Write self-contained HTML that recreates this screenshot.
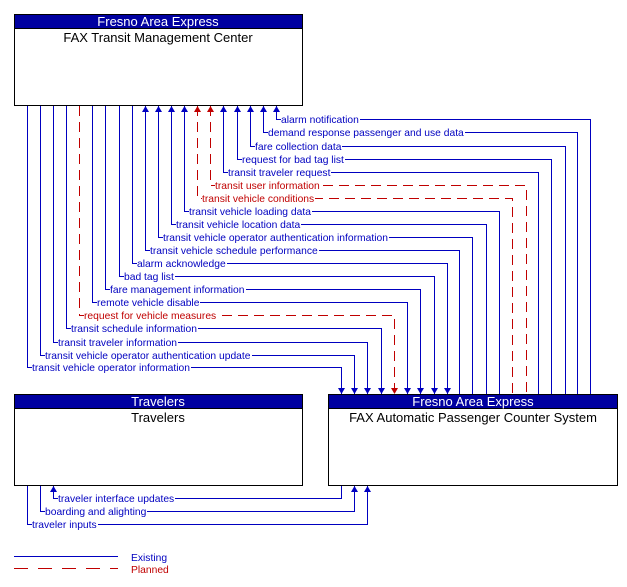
<!DOCTYPE html>
<html><head><meta charset="utf-8"><style>
html,body{margin:0;padding:0;background:#fff}
body{position:relative;width:627px;height:587px;overflow:hidden}
svg{display:block;position:absolute;left:0;top:0}
text{font-family:"Liberation Sans",Arial,sans-serif}
.l{position:absolute;font-family:"Liberation Sans",Arial,sans-serif;font-size:10.3px;line-height:11px;background:#fff;white-space:nowrap;padding:0 1px 0 0;margin-top:1px}
.b{color:#0000c0}.r{color:#c00000}
.e{fill:none;stroke:#0000c0;stroke-width:1}
.p{fill:none;stroke:#c00000;stroke-width:1;stroke-dasharray:10,6}
</style></head><body>
<svg width="627" height="587" viewBox="0 0 627 587" xmlns="http://www.w3.org/2000/svg">
<rect x="14.5" y="14.5" width="288" height="91" fill="#fff" stroke="#000"/>
<rect x="14.5" y="14.5" width="288" height="14" fill="#0000a0" stroke="#000"/>
<text x="158" y="26" font-size="13" fill="#fff" text-anchor="middle">Fresno Area Express</text>
<text x="158" y="42" font-size="13" fill="#000" text-anchor="middle">FAX Transit Management Center</text>

<rect x="14.5" y="394.5" width="288" height="91" fill="#fff" stroke="#000"/>
<rect x="14.5" y="394.5" width="288" height="14" fill="#0000a0" stroke="#000"/>
<text x="158" y="406" font-size="13" fill="#fff" text-anchor="middle">Travelers</text>
<text x="158" y="422" font-size="13" fill="#000" text-anchor="middle">Travelers</text>

<rect x="328.5" y="394.5" width="289" height="91" fill="#fff" stroke="#000"/>
<rect x="328.5" y="394.5" width="289" height="14" fill="#0000a0" stroke="#000"/>
<text x="473" y="406" font-size="13" fill="#fff" text-anchor="middle">Fresno Area Express</text>
<text x="473" y="422" font-size="13" fill="#000" text-anchor="middle">FAX Automatic Passenger Counter System</text>

<path class="e" d="M276.5 106V119.5H590.5V394"/>
<path class="e" d="M263.5 106V132.5H577.5V394"/>
<path class="e" d="M250.5 106V146.5H565.5V394"/>
<path class="e" d="M237.5 106V159.5H551.5V394"/>
<path class="e" d="M223.5 106V172.5H538.5V394"/>
<path class="p" d="M210.5 106V185.5H526.5V394"/>
<path class="p" d="M197.5 106V198.5H512.5V394"/>
<path class="e" d="M184.5 106V211.5H499.5V394"/>
<path class="e" d="M171.5 106V224.5H486.5V394"/>
<path class="e" d="M158.5 106V237.5H472.5V394"/>
<path class="e" d="M145.5 106V250.5H459.5V394"/>
<path class="e" d="M132.5 106V263.5H447.5V394"/>
<path class="e" d="M119.5 106V276.5H434.5V394"/>
<path class="e" d="M105.5 106V289.5H420.5V394"/>
<path class="e" d="M92.5 106V302.5H407.5V394"/>
<path class="p" d="M79.5 106V315.5H394.5V394"/>
<path class="e" d="M66.5 106V328.5H381.5V394"/>
<path class="e" d="M53.5 106V342.5H367.5V394"/>
<path class="e" d="M40.5 106V355.5H354.5V394"/>
<path class="e" d="M27.5 106V367.5H341.5V394"/>

<g fill="#0000c0">
<polygon points="276.5,106 273,112 280,112"/>
<polygon points="263.5,106 260,112 267,112"/>
<polygon points="250.5,106 247,112 254,112"/>
<polygon points="237.5,106 234,112 241,112"/>
<polygon points="223.5,106 220,112 227,112"/>
<polygon points="184.5,106 181,112 188,112"/>
<polygon points="171.5,106 168,112 175,112"/>
<polygon points="158.5,106 155,112 162,112"/>
<polygon points="145.5,106 142,112 149,112"/>
</g>
<g fill="#c00000">
<polygon points="210.5,106 207,112 214,112"/>
<polygon points="197.5,106 194,112 201,112"/>
<polygon points="394.5,394 391,388 398,388"/>
</g>
<g fill="#0000c0">
<polygon points="447.5,394 444,388 451,388"/>
<polygon points="434.5,394 431,388 438,388"/>
<polygon points="420.5,394 417,388 424,388"/>
<polygon points="407.5,394 404,388 411,388"/>
<polygon points="381.5,394 378,388 385,388"/>
<polygon points="367.5,394 364,388 371,388"/>
<polygon points="354.5,394 351,388 358,388"/>
<polygon points="341.5,394 338,388 345,388"/>
</g>

<path class="e" d="M341.5 486V498.5H53.5V486"/>
<path class="e" d="M40.5 486V511.5H354.5V486"/>
<path class="e" d="M27.5 486V524.5H367.5V486"/>
<g fill="#0000c0">
<polygon points="53.5,486 50,492 57,492"/>
<polygon points="354.5,486 351,492 358,492"/>
<polygon points="367.5,486 364,492 371,492"/>
</g>

<line x1="14" y1="556.5" x2="118" y2="556.5" stroke="#0000c0"/>
<text x="131" y="561" font-size="10.3" fill="#0000c0">Existing</text>
<line x1="14" y1="568.5" x2="118" y2="568.5" stroke="#c00000" stroke-dasharray="14,10"/>
<text x="131" y="573" font-size="10.3" fill="#c00000">Planned</text>
</svg>
<span class="l b" style="left:281px;top:114px">alarm notification</span>
<span class="l b" style="left:268px;top:127px">demand response passenger and use data</span>
<span class="l b" style="left:255px;top:141px">fare collection data</span>
<span class="l b" style="left:242px;top:154px">request for bad tag list</span>
<span class="l b" style="left:228px;top:167px">transit traveler request</span>
<span class="l r" style="left:215px;top:180px">transit user information</span>
<span class="l r" style="left:202px;top:193px">transit vehicle conditions</span>
<span class="l b" style="left:189px;top:206px">transit vehicle loading data</span>
<span class="l b" style="left:176px;top:219px">transit vehicle location data</span>
<span class="l b" style="left:163px;top:232px">transit vehicle operator authentication information</span>
<span class="l b" style="left:150px;top:245px">transit vehicle schedule performance</span>
<span class="l b" style="left:137px;top:258px">alarm acknowledge</span>
<span class="l b" style="left:124px;top:271px">bad tag list</span>
<span class="l b" style="left:110px;top:284px">fare management information</span>
<span class="l b" style="left:97px;top:297px">remote vehicle disable</span>
<span class="l r" style="left:84px;top:310px">request for vehicle measures</span>
<span class="l b" style="left:71px;top:323px">transit schedule information</span>
<span class="l b" style="left:58px;top:337px">transit traveler information</span>
<span class="l b" style="left:45px;top:350px">transit vehicle operator authentication update</span>
<span class="l b" style="left:32px;top:362px">transit vehicle operator information</span>
<span class="l b" style="left:58px;top:493px">traveler interface updates</span>
<span class="l b" style="left:45px;top:506px">boarding and alighting</span>
<span class="l b" style="left:32px;top:519px">traveler inputs</span>
</body></html>
